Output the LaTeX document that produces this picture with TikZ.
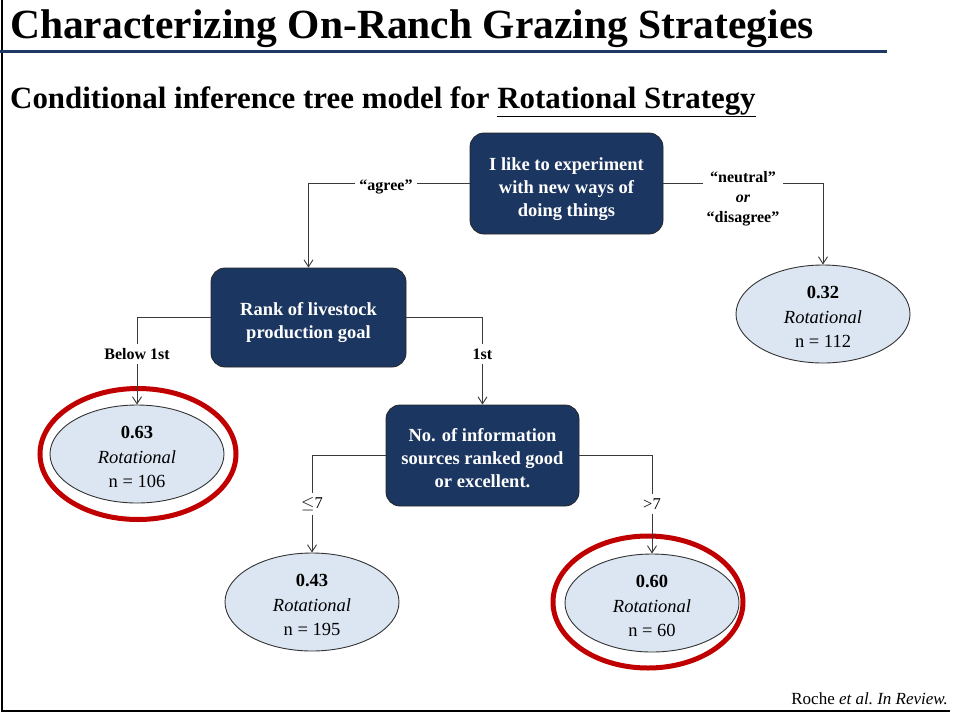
\documentclass[tikz,border=0pt]{standalone}
\usepackage{fontspec}
\setmainfont{Liberation Serif}
\usetikzlibrary{shapes.geometric,arrows.meta}
\definecolor{boxblue}{HTML}{1B3660}
\definecolor{lineblue}{HTML}{1F3864}
\definecolor{leaffill}{HTML}{DCE6F2}
\definecolor{ringred}{HTML}{C00000}
\definecolor{conngray}{HTML}{3A3A3A}
\newcommand{\myTopStrut}[1]{\rule{0pt}{#1}}
\tikzset{
  qbox/.style={rectangle, rounded corners=14pt, fill=boxblue, draw=black!85, line width=0.8pt,
    text=white, align=center, inner sep=0pt,
    font=\bfseries\fontsize{18.5}{23}\selectfont},
  leaf/.style={ellipse, fill=leaffill, draw=black!80, line width=0.9pt, inner sep=0pt,
    minimum width=174pt, minimum height=98pt, align=center,
    font=\fontsize{18.5}{24.5}\selectfont},
  ring/.style={ellipse, draw=ringred, line width=5pt, inner sep=0pt},
  blabel/.style={inner sep=4pt, align=center, font=\bfseries\fontsize{16}{20}\selectfont},
  plabel/.style={inner sep=4pt, align=center, font=\fontsize{16.5}{20}\selectfont},
  conn/.style={draw=conngray, line width=1pt},
  arr/.style={conn, -{Straight Barb[length=7pt,width=9pt,line width=0.9pt]}}
}
\begin{document}
\begin{tikzpicture}[x=1pt,y=-1pt]
\useasboundingbox (0,0) rectangle (954,713);
\fill[white] (0,0) rectangle (954,713);
% frame
\draw[line width=2.2pt] (2,0) -- (2,711) -- (950,711);
% title
\node[anchor=base west, inner sep=0pt, font=\bfseries\fontsize{41.5}{45}\selectfont] (title) at (10,38) {Characterizing On-Ranch Grazing Strategies};
\draw[lineblue, line width=3pt] (0,51) -- (887,51);
\node[anchor=base west, inner sep=0pt, font=\bfseries\fontsize{30.9}{34}\selectfont] (subtitle) at (10,108) {Conditional inference tree model for \underline{Rotational Strategy}};
% footer
\node[anchor=base east, inner sep=0pt, font=\fontsize{17}{20}\selectfont] (foot) at (948,704) {Roche \textit{et al.\ In Review.}};

% decision boxes
\node[qbox, minimum width=193pt, minimum height=101pt] (q1) at (566.5,183.5) {\myTopStrut{24pt}I like to experiment\\with new ways of\\doing things};
\node[qbox, minimum width=195pt, minimum height=99pt] (q2) at (308.5,317.5) {\myTopStrut{23pt}Rank of livestock\\production goal};
\node[qbox, minimum width=193pt, minimum height=101pt] (q3) at (482.5,455.5) {\myTopStrut{19pt}No. of information\\sources ranked good\\or excellent.};

% leaves
\node[leaf] (e1) at (823,314) {\myTopStrut{18.5pt}\textbf{0.32}\\\textit{Rotational}\\n = 112};
\node[leaf] (e2) at (137,454) {\myTopStrut{18.5pt}\textbf{0.63}\\\textit{Rotational}\\n = 106};
\node[leaf] (e3) at (312,602) {\myTopStrut{18.5pt}\textbf{0.43}\\\textit{Rotational}\\n = 195};
\node[leaf] (e4) at (652,603) {\myTopStrut{18.5pt}\textbf{0.60}\\\textit{Rotational}\\n = 60};

% rings
\node[ring, minimum width=196pt, minimum height=131pt] (r1) at (138,454) {};
\node[ring, minimum width=190pt, minimum height=132pt] (r2) at (648,602) {};

% labels
\node[blabel] (lagree) at (386,187) {``agree''};
\node[blabel] (lneu) at (743,199) {``neutral''\\\textit{or}\\``disagree''};
\node[blabel] (lbelow) at (137,354) {Below 1st};
\node[blabel] (lfirst) at (482.5,354) {1st};
\node[plabel] (lle) at (312,504) {$\leq$7};
\node[plabel] (lgt) at (652,504) {>7};

% connectors
\draw[conn] (q1.west) -- (lagree.east |- q1.west);
\draw[arr] (lagree.west |- q1.west) -| (q2.north);
\draw[conn] (q1.east) -- (lneu.west |- q1.east);
\draw[arr] (lneu.east |- q1.east) -| (e1.north);

\draw[conn] (q2.west) -| (lbelow.north);
\draw[arr] (lbelow.south) -- (e2.north);
\draw[conn] (q2.east) -| (lfirst.north);
\draw[arr] (lfirst.south) -- (q3.north);

\draw[conn] (q3.west) -| (lle.north);
\draw[arr] (lle.south) -- (e3.north);
\draw[conn] (q3.east) -| (lgt.north);
\draw[arr] (lgt.south) -- (e4.north);
\end{tikzpicture}
\end{document}
